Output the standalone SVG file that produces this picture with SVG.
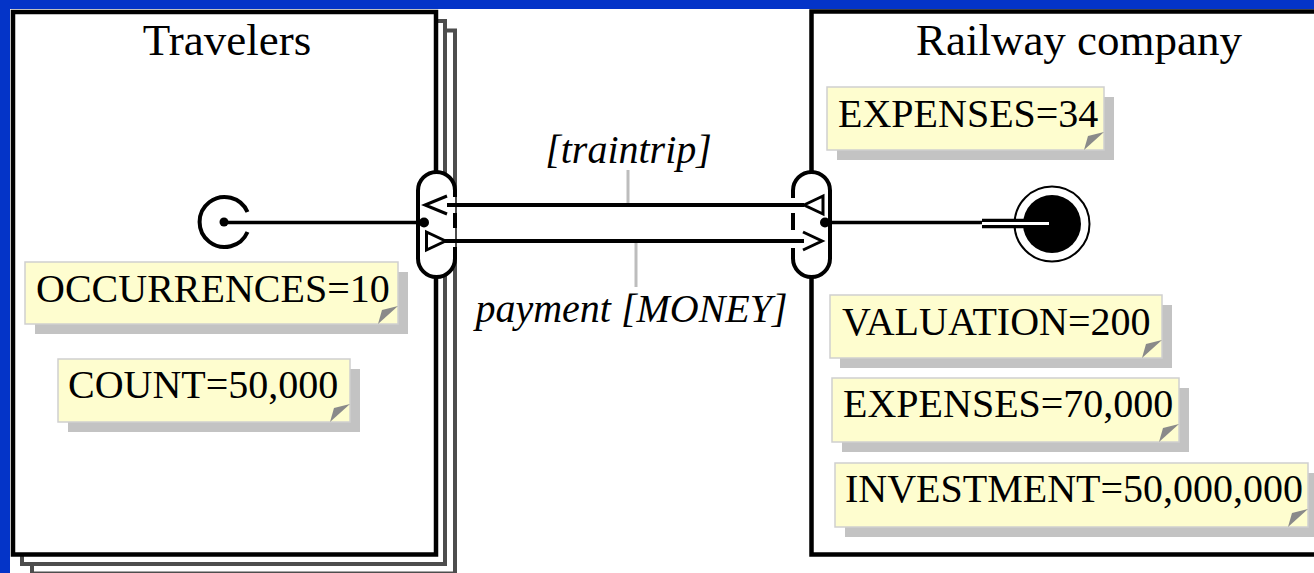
<svg xmlns="http://www.w3.org/2000/svg" width="1314" height="573" viewBox="0 0 1314 573">
  <style>
    text { font-family: "Liberation Serif", "Times New Roman", serif; fill: #000; }
    .title { font-size: 45px; text-anchor: middle; }
    .note-text { font-size: 40px; }
    .flow-label { font-size: 40px; font-style: italic; text-anchor: middle; }
    .box { fill: #fff; stroke: #000; stroke-width: 4.5; }
    .box-copy { fill: #fff; stroke: #4d4d4d; stroke-width: 4; }
    .note { fill: #fefdcf; stroke: #cfcfcf; stroke-width: 1.5; }
    .shadow { fill: #c3c3c3; }
    .fold { fill: #8a8a8a; }
    .port-fill { fill: #fff; stroke: none; }
    .port-line { fill: none; stroke: #000; stroke-width: 4; stroke-linecap: butt; }
    .flow { fill: none; stroke: #000; stroke-width: 3.8; }
    .head { fill: none; stroke: #000; stroke-width: 3; stroke-linejoin: miter; }
    .tail { fill: #fff; stroke: #000; stroke-width: 3; stroke-linejoin: miter; }
    .leader { stroke: #bdbdbd; stroke-width: 3; }
    .wire { stroke: #000; stroke-width: 3.5; }
  </style>

  <!-- page background and frame -->
  <rect x="0" y="0" width="1314" height="573" fill="#fff"/>
  <rect x="0" y="0" width="1314" height="9" fill="#0434c8"/>
  <rect x="0" y="0" width="10" height="573" fill="#0434c8"/>

  <!-- Travelers: stacked multi-instance box -->
  <g id="travelers">
    <rect class="box-copy" x="32" y="30.5" width="423" height="543"/>
    <rect class="box-copy" x="22" y="21" width="423" height="543"/>
    <rect class="box" x="13" y="12" width="423" height="542.5"/>
    <text class="title" x="227" y="55">Travelers</text>
  </g>

  <!-- Railway company box -->
  <g id="railway">
    <rect class="box" x="811.5" y="11.5" width="560" height="543"/>
    <text class="title" x="1079" y="55">Railway company</text>
  </g>

  <!-- value annotations -->
  <g id="note-occurrences" transform="translate(25,262)">
    <rect class="shadow" x="10" y="10" width="373" height="62"/>
    <rect class="note" x="0" y="0" width="373" height="62"/>
    <polygon class="fold" points="353,62 373,44 357,48"/>
    <text class="note-text" x="11" y="40">OCCURRENCES=10</text>
  </g>
  <g id="note-count" transform="translate(58,359)">
    <rect class="shadow" x="10" y="10" width="292" height="63"/>
    <rect class="note" x="0" y="0" width="292" height="63"/>
    <polygon class="fold" points="272,63 292,45 276,49"/>
    <text class="note-text" x="10" y="39">COUNT=50,000</text>
  </g>
  <g id="note-expenses-34" transform="translate(827,87)">
    <rect class="shadow" x="10" y="10" width="277" height="63"/>
    <rect class="note" x="0" y="0" width="277" height="63"/>
    <polygon class="fold" points="257,63 277,45 261,49"/>
    <text class="note-text" x="11" y="40">EXPENSES=34</text>
  </g>
  <g id="note-valuation" transform="translate(830,295)">
    <rect class="shadow" x="10" y="10" width="332" height="63"/>
    <rect class="note" x="0" y="0" width="332" height="63"/>
    <polygon class="fold" points="312,63 332,45 316,49"/>
    <text class="note-text" x="12" y="40">VALUATION=200</text>
  </g>
  <g id="note-expenses-70000" transform="translate(832,378)">
    <rect class="shadow" x="10" y="10" width="347" height="64"/>
    <rect class="note" x="0" y="0" width="347" height="64"/>
    <polygon class="fold" points="327,64 347,46 331,50"/>
    <text class="note-text" x="11" y="39">EXPENSES=70,000</text>
  </g>
  <g id="note-investment" transform="translate(835,463)">
    <rect class="shadow" x="10" y="10" width="473" height="64"/>
    <rect class="note" x="0" y="0" width="473" height="64"/>
    <polygon class="fold" points="453,64 473,46 457,50"/>
    <text class="note-text" x="10" y="39">INVESTMENT=50,000,000</text>
  </g>

  <!-- start stimulus -->
  <g id="start">
    <path class="port-line" d="M247.5,212 A25,25 0 1 0 247.5,232"/>
    <circle cx="224" cy="222" r="4.5" fill="#000"/>
  </g>

  <!-- end point -->
  <g id="end">
    <circle cx="1052" cy="224" r="37.5" fill="#fff" stroke="#000" stroke-width="2"/>
    <circle cx="1052" cy="224" r="29" fill="#000"/>
  </g>

  <!-- interaction ports -->
  <g id="port-travelers">
    <path class="port-fill" d="M418,190.5 A18.5,18.5 0 0 1 455,190.5 V258.5 A18.5,18.5 0 0 1 418,258.5 Z"/>
    <path class="port-line" d="M455,197 V190.5 A18.5,18.5 0 0 0 418,190.5 V258.5 A18.5,18.5 0 0 0 455,258.5 V247"/>
    <path class="port-line" d="M455,213 V228"/>
  </g>
  <g id="port-railway">
    <path class="port-fill" d="M793,190.5 A18.5,18.5 0 0 1 830,190.5 V258.5 A18.5,18.5 0 0 1 793,258.5 Z"/>
    <path class="port-line" d="M793,198 V190.5 A18.5,18.5 0 0 1 830,190.5 V258.5 A18.5,18.5 0 0 1 793,258.5 V248"/>
    <path class="port-line" d="M793,213 V230"/>
  </g>

  <!-- connectors -->
  <g id="connectors">
    <!-- start to Travelers port -->
    <line class="wire" x1="224" y1="222.5" x2="424" y2="222.5"/>
    <circle cx="424" cy="222.5" r="5" fill="#000"/>

    <!-- Railway port to end point -->
    <line class="wire" x1="825" y1="222.5" x2="985" y2="222.5"/>
    <line x1="982" y1="223.5" x2="1052" y2="223.5" stroke="#000" stroke-width="9.5"/>
    <line x1="982" y1="223.5" x2="1049" y2="223.5" stroke="#fff" stroke-width="3.2"/>
    <circle cx="825" cy="222.5" r="5" fill="#000"/>

    <!-- traintrip: Railway to Travelers -->
    <line class="flow" x1="447" y1="205" x2="804" y2="205"/>
    <polyline class="head" points="447,196 425,205 447,214"/>
    <polygon class="tail" points="804,205 823,196 823,214"/>
    <line class="leader" x1="628" y1="170" x2="628" y2="203"/>
    <text class="flow-label" x="628.5" y="163">[traintrip]</text>

    <!-- payment: Travelers to Railway -->
    <line class="flow" x1="445" y1="241" x2="804" y2="241"/>
    <polygon class="tail" points="426.5,232 426.5,250 445.5,241"/>
    <polyline class="head" points="803,232 822,241 803,250"/>
    <line class="leader" x1="636" y1="243" x2="636" y2="287"/>
    <text class="flow-label" x="631.5" y="322">payment [MONEY]</text>
  </g>
</svg>
